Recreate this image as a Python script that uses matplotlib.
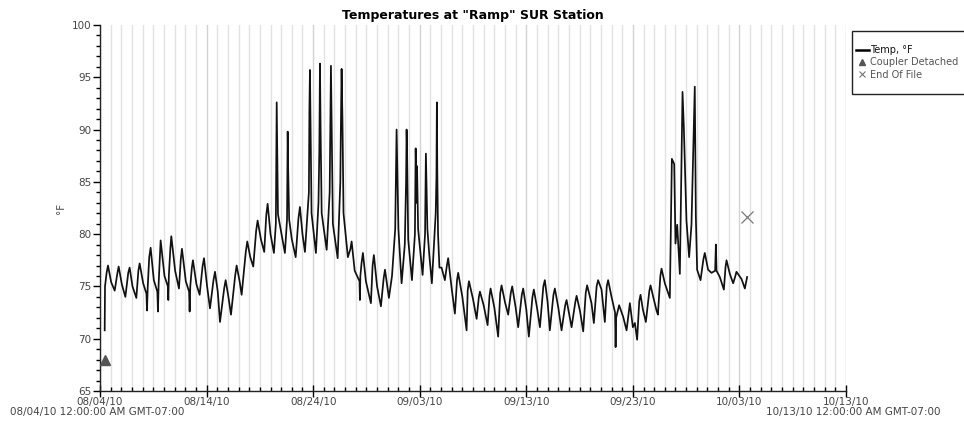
import datetime as dt
import matplotlib
matplotlib.use("Agg")
import matplotlib.pyplot as plt
import matplotlib.dates as mdates
from matplotlib.lines import Line2D
from matplotlib.patches import Rectangle
from matplotlib.ticker import MultipleLocator

# ---- data (time offsets in days from 08/04/10 00:00, temperature in °F) ----
seg1_days = [0.44, 0.47, 0.62, 0.75, 1.05, 1.38, 1.62, 1.75, 2.05, 2.38, 2.65, 2.78, 3.05,
             3.41, 3.60, 3.72, 4.05, 4.36, 4.41, 4.48, 4.62, 4.75, 5.05, 5.38, 5.44, 5.50,
             5.69, 6.05, 6.37, 6.41, 6.46, 6.60, 6.69, 7.05, 7.41, 7.58, 7.69, 8.05, 8.36,
             8.41, 8.47, 8.62, 8.72, 9.05, 9.35, 9.62, 9.76, 10.05]
seg1_temp = [70.8, 75.0, 76.3, 77.0, 75.4, 74.6, 76.2, 76.9, 75.2, 74.0, 76.3, 76.8, 75.0,
             73.9, 76.5, 77.2, 75.3, 74.3, 72.7, 75.0, 77.8, 78.7, 75.6, 74.5, 72.6, 75.2,
             79.4, 76.0, 75.0, 73.7, 76.0, 78.6, 79.8, 76.5, 74.8, 77.6, 78.6, 75.5, 74.5,
             72.6, 75.0, 76.8, 77.5, 75.2, 74.2, 76.9, 77.7, 75.0]

seg2_days = [10.32, 10.65, 10.79, 11.05, 11.26, 11.65, 11.79, 12.05, 12.29, 12.68, 12.82,
             13.10, 13.29, 13.68, 13.82, 14.10, 14.38, 14.65, 14.79, 15.10, 15.41, 15.60,
             15.73, 16.00, 16.32, 16.50, 16.58, 16.62, 16.70, 17.00, 17.35, 17.55, 17.61,
             17.66, 17.75, 18.00, 18.36, 18.62, 18.76, 19.00, 19.23, 19.60, 19.65, 19.70,
             19.75, 19.85, 20.26]
seg2_temp = [72.9, 75.6, 76.4, 74.5, 71.6, 74.8, 75.6, 74.0, 72.3, 76.0, 77.0,
             75.5, 74.2, 78.3, 79.3, 77.8, 76.9, 80.3, 81.3, 79.5, 78.3, 81.8,
             82.9, 80.0, 78.2, 81.0, 92.6, 89.0, 81.9, 80.2, 78.2, 81.4, 89.8,
             86.0, 81.4, 79.5, 77.8, 81.5, 82.6, 80.0, 78.3, 84.0, 92.0, 95.7,
             91.0, 82.0, 78.2]

seg3_days = [20.50, 20.58, 20.64, 20.70, 20.80, 21.27, 21.55, 21.67, 21.75, 21.85, 22.30,
             22.55, 22.60, 22.67, 22.75, 22.85, 23.26, 23.50, 23.61, 23.90, 24.35, 24.39,
             24.43, 24.55, 24.67, 24.95, 25.42, 25.58, 25.70, 26.00, 26.36, 26.62, 26.74,
             27.11, 27.40, 27.70, 27.78, 27.83, 27.90, 28.00, 28.30, 28.60, 28.72, 28.77,
             28.82, 28.92, 29.27, 29.55, 29.62, 29.70, 29.75, 29.85, 30.27, 30.50, 30.58,
             30.65, 30.72, 30.90]
seg3_temp = [83.0, 88.0, 96.3, 90.0, 82.0, 78.5, 84.0, 96.1, 89.0, 81.0, 77.7,
             85.0, 90.0, 95.8, 91.0, 82.0, 77.8, 78.6, 79.3, 76.5, 75.5, 73.7,
             76.0, 77.3, 78.2, 75.5, 73.4, 77.0, 78.0, 75.0, 73.1, 75.8, 76.6,
             73.9, 76.0, 80.5, 86.0, 90.0, 86.0, 80.5, 75.3, 79.0, 85.0, 90.0,
             87.5, 79.5, 75.6, 80.0, 88.2, 83.0, 86.5, 80.5, 76.1, 80.0, 87.7,
             84.0, 80.5, 78.0]

seg4_days = [31.14, 31.50, 31.57, 31.61, 31.65, 31.72, 31.85, 32.05, 32.36, 32.55, 32.67,
             33.00, 33.30, 33.50, 33.61, 34.00, 34.40, 34.50, 34.62, 35.00, 35.34, 35.55,
             35.65, 36.00, 36.37, 36.55, 36.65, 37.00, 37.36, 37.55, 37.68, 38.00, 38.30,
             38.55, 38.68, 39.00, 39.24, 39.58, 39.71, 40.00, 40.24, 40.58, 40.71, 41.00,
             41.28]
seg4_temp = [75.3, 82.0, 85.5, 92.6, 86.0, 80.0, 76.8, 76.8, 75.6, 77.0, 77.7,
             74.8, 72.4, 75.6, 76.3, 74.0, 70.8, 74.6, 75.5, 73.8, 71.9, 74.0,
             74.5, 73.2, 71.3, 74.1, 74.8, 73.0, 70.2, 74.3, 75.1, 73.5, 72.3,
             74.4, 75.0, 73.0, 71.1, 74.2, 74.8, 72.8, 70.2, 74.0, 74.7, 73.0,
             71.1]

seg5_days = [41.60, 41.74, 42.00, 42.21, 42.55, 42.68, 43.00, 43.31, 43.65, 43.78, 44.00,
             44.25, 44.60, 44.72, 45.05, 45.34, 45.58, 45.71, 46.12, 46.34, 46.60, 46.74,
             47.06, 47.37, 47.55, 47.68, 48.00, 48.33, 48.38, 48.43, 48.71, 49.09, 49.41,
             49.72, 50.00, 50.19, 50.40, 50.60, 50.72, 50.94, 51.22, 51.55, 51.66, 51.91,
             52.22, 52.35, 52.58, 52.69, 53.00, 53.47]
seg5_temp = [75.0, 75.6, 73.5, 70.8, 74.2, 74.8, 73.0, 70.8, 73.2, 73.7, 72.5,
             71.1, 73.5, 74.1, 72.6, 70.7, 74.4, 75.1, 73.4, 71.5, 75.0, 75.6,
             74.7, 71.6, 75.0, 75.6, 74.0, 72.5, 69.2, 72.0, 73.2, 72.1, 70.8,
             73.4, 71.1, 71.5, 69.9, 73.6, 74.2, 72.8, 71.6, 74.6, 75.1, 74.0,
             72.7, 72.3, 76.0, 76.7, 75.3, 73.9]

seg6_days = [53.66, 53.88, 54.00, 54.16, 54.41, 54.66, 54.78, 55.03, 55.28, 55.50, 55.81,
             55.91, 56.03, 56.35, 56.62, 56.75, 57.06, 57.38, 57.72, 57.79, 57.85, 58.16,
             58.54, 58.70, 58.79, 59.10, 59.41, 59.62, 59.72, 60.20, 60.51, 60.72]
seg6_temp = [87.2, 86.7, 79.1, 80.9, 76.2, 93.6, 90.3, 81.3, 77.8, 80.9, 94.1,
             81.7, 76.6, 75.6, 77.6, 78.2, 76.6, 76.3, 76.5, 79.0, 76.5, 75.9,
             74.7, 76.9, 77.5, 76.2, 75.3, 76.0, 76.4, 75.7, 74.8, 75.9]

coupler_day, coupler_temp = [0.45], [68.0]
eof_day, eof_temp = [60.72], [81.6]

tick_labels = ["08/04/10", "08/14/10", "08/24/10", "09/03/10", "09/13/10",
               "09/23/10", "10/03/10", "10/13/10"]

# ---- build series ----
start = mdates.date2num(dt.datetime(2010, 8, 4))
end = mdates.date2num(dt.datetime(2010, 10, 13))
days = seg1_days + seg2_days + seg3_days + seg4_days + seg5_days + seg6_days
temps = seg1_temp + seg2_temp + seg3_temp + seg4_temp + seg5_temp + seg6_temp
x = [start + d for d in days]

plt.rcParams["font.family"] = ["DejaVu Sans"]
fig = plt.figure(figsize=(9.64, 4.21), dpi=100)
ax = fig.add_axes([100 / 964, 30 / 421, 746 / 964, 366 / 421])

ax.plot(x, temps, color="#111111", lw=1.25, zorder=3)
ax.plot([start + d for d in coupler_day], coupler_temp, marker="^", ls="none",
        color="#555555", ms=7, zorder=4)
ax.plot([start + d for d in eof_day], eof_temp, marker="x", ls="none",
        color="#777777", ms=8, mew=0.9, zorder=4)

ax.set_xlim(start, end)
ax.set_ylim(65, 100)
ax.set_xticks([start + 10 * i for i in range(len(tick_labels))])
ax.set_xticklabels(tick_labels)
ax.xaxis.set_minor_locator(MultipleLocator(1))
ax.yaxis.set_major_locator(MultipleLocator(5))
ax.yaxis.set_minor_locator(MultipleLocator(1))

ax.grid(True, axis="x", which="minor", color="#e2e2e2", lw=1.0)
ax.grid(True, axis="x", which="major", color="#d2d2d2", lw=1.0)
ax.set_axisbelow(True)

for s in ["top", "right"]:
    ax.spines[s].set_visible(False)
for s in ["left", "bottom"]:
    ax.spines[s].set_color("#222222")
    ax.spines[s].set_linewidth(1.0)

ax.tick_params(axis="x", which="major", direction="inout", length=8, width=1,
               labelsize=7.5, labelcolor="#444444", pad=0)
ax.tick_params(axis="x", which="minor", direction="in", length=3, width=1)
ax.tick_params(axis="y", which="major", direction="out", length=5, width=1,
               labelsize=7.5, labelcolor="#444444", pad=1)
ax.tick_params(axis="y", which="minor", direction="out", length=3, width=1)

ax.set_ylabel("°F", fontsize=7.5, color="#444444", labelpad=4)
ax.set_title('Temperatures at "Ramp" SUR Station', fontsize=9, fontweight="bold",
             pad=4)

fig.text(10 / 964, 1 - 412 / 421, "08/04/10 12:00:00 AM GMT-07:00", fontsize=7.5,
         color="#444444", ha="left", va="center")
fig.text(940 / 964, 1 - 412 / 421, "10/13/10 12:00:00 AM GMT-07:00", fontsize=7.5,
         color="#444444", ha="right", va="center")

# legend frame (extends past the right edge, as in the reference)
fig.patches.append(Rectangle((852 / 964, 1 - 94 / 421), 130 / 964, 63 / 421,
                             transform=fig.transFigure, fill=False,
                             edgecolor="#222222", lw=1.0))
handles = [Line2D([], [], color="black", lw=1.8),
           Line2D([], [], marker="^", ls="none", color="#555555", ms=5),
           Line2D([], [], marker="x", ls="none", color="#777777", ms=5, mew=0.8)]
leg = fig.legend(handles, ["Temp, °F", "Coupler Detached", "End Of File"],
                 loc="upper left", bbox_to_anchor=(856 / 964, 1 - 45 / 421),
                 fontsize=7, frameon=False, handlelength=1.3,
                 handletextpad=0.15, labelspacing=0.25, borderpad=0,
                 borderaxespad=0)
for txt, c in zip(leg.get_texts(), ["#111111", "#555555", "#555555"]):
    txt.set_color(c)

fig.savefig("out.png", dpi=100)
